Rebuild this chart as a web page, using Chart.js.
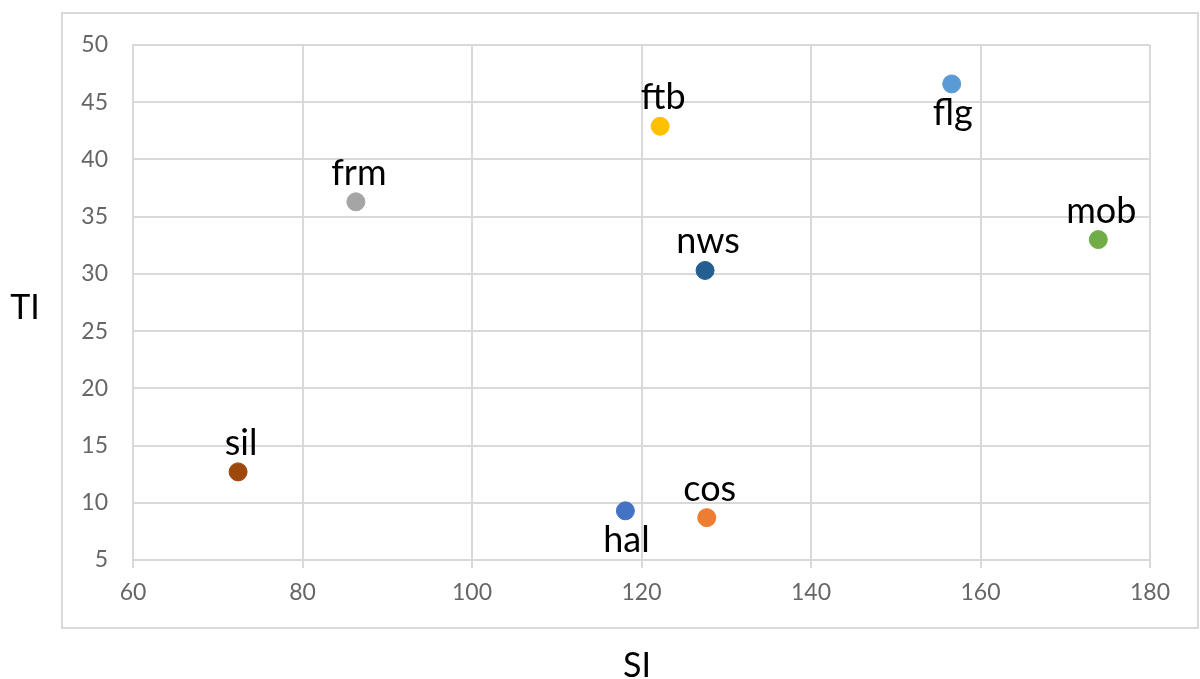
<!DOCTYPE html>
<html>
<head>
<meta charset="utf-8">
<script src="https://cdn.jsdelivr.net/npm/chart.js@4"></script>
<style>
  body { margin: 0; background: #fff; }
</style>
</head>
<body>
<canvas id="myChart" width="1200" height="679"></canvas>
<script>
var names = ["flg", "ftb", "frm", "mob", "nws", "sil", "hal", "cos"];
var siValues = [156.6, 122.2, 86.3, 173.9, 127.5, 72.4, 118.1, 127.7];
var tiValues = [46.6, 42.9, 36.3, 33.0, 30.3, 12.7, 9.3, 8.7];
var xTicks = [60, 80, 100, 120, 140, 160, 180];
var yTicks = [5, 10, 15, 20, 25, 30, 35, 40, 45, 50];

var colores = ["#5b9bd5", "#ffc000", "#a5a5a5", "#70ad47", "#255e91", "#9e480e", "#4472c4", "#ed7d31"];
var abajo = ["flg", "hal"]; // etiquetas debajo del punto
var gridColor = "#d9d9d9";
var fuente = "Lato";

var puntos = names.map((n, i) => ({ x: siValues[i], y: tiValues[i] }));

// caja exterior + titulos de ejes
var marcoPlugin = {
  id: "marco",
  beforeDraw: (chart) => {
    var ctx = chart.ctx;
    ctx.save();
    ctx.fillStyle = "#fff";
    ctx.fillRect(0, 0, chart.width, chart.height);
    ctx.strokeStyle = gridColor;
    ctx.lineWidth = 2;
    ctx.strokeRect(62, 13, 1136, 615);
    ctx.fillStyle = "#000";
    ctx.font = "34px " + fuente;
    ctx.textAlign = "center";
    ctx.textBaseline = "alphabetic";
    ctx.fillText("TI", 25, 319);
    ctx.fillText("SI", 637, 677);
    ctx.restore();
  },
};

// etiquetas de los puntos
var etiquetasPlugin = {
  id: "etiquetas",
  afterDatasetsDraw: (chart) => {
    var ctx = chart.ctx;
    var meta = chart.getDatasetMeta(0);
    ctx.save();
    ctx.fillStyle = "#000";
    ctx.font = "36px " + fuente;
    ctx.textAlign = "center";
    ctx.textBaseline = "alphabetic";
    meta.data.forEach((p, i) => {
      if (abajo.indexOf(names[i]) >= 0) {
        ctx.fillText(names[i], p.x + 1, p.y + 41);
      } else {
        ctx.fillText(names[i], p.x + 3, p.y - 17);
      }
    });
    ctx.restore();
  },
};

var canva = document.getElementById("myChart").getContext("2d");
var chart = new Chart(canva, {
  type: "scatter",
  data: {
    labels: names,
    datasets: [
      {
        data: puntos,
        pointBackgroundColor: colores,
        pointBorderColor: colores,
        pointRadius: 9,
        pointHoverRadius: 9,
      },
    ],
  },
  options: {
    responsive: false,
    animation: false,
    devicePixelRatio: 1,
    layout: { padding: { top: 45, right: 50, left: 0, bottom: 0 } },
    scales: {
      x: {
        min: 60,
        max: 180,
        afterFit: (s) => { s.height = 119; },
        afterBuildTicks: (s) => { s.ticks = xTicks.map((v) => ({ value: v })); },
        grid: { color: gridColor, lineWidth: 2, tickLength: 8 },
        border: { color: gridColor, width: 2 },
        ticks: { color: "#666", font: { family: fuente, size: 23 }, padding: 11, maxRotation: 0 },
      },
      y: {
        min: 5,
        max: 50,
        afterFit: (s) => { s.width = 133; },
        afterBuildTicks: (s) => { s.ticks = yTicks.map((v) => ({ value: v })); },
        grid: { color: gridColor, lineWidth: 2, drawTicks: false },
        border: { color: gridColor, width: 2 },
        ticks: { color: "#666", font: { family: fuente, size: 23 }, padding: 25 },
      },
    },
    plugins: {
      legend: { display: false },
      tooltip: { enabled: false },
    },
  },
  plugins: [marcoPlugin, etiquetasPlugin],
});
</script>
</body>
</html>
